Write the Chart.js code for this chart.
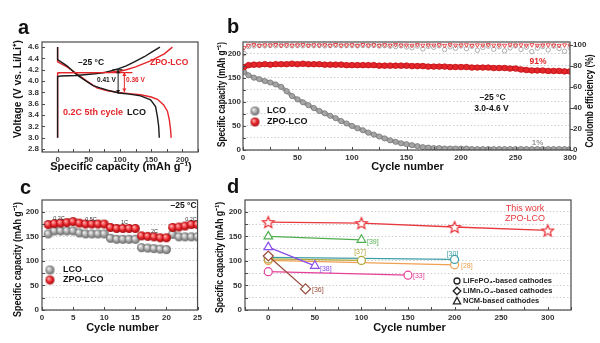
<!DOCTYPE html>
<html>
<head>
<meta charset="utf-8">
<title>LCO vs ZPO-LCO at –25 °C</title>
<script src="https://cdn.jsdelivr.net/npm/chart.js@4.4.1/dist/chart.umd.min.js"></script>
<style>
html,body{margin:0;padding:0;background:#fff;}
#fig{position:relative;width:600px;height:343px;overflow:hidden;background:#fff;}
#fig canvas{position:absolute;}
.pl{position:absolute;font:bold 20px "Liberation Sans",Arial,sans-serif;line-height:20px;color:#111;}
</style>
</head>
<body>
<div id="fig">
  <canvas id="chartA" width="205" height="178" style="left:0;top:0;width:205px;height:178px"></canvas>
  <canvas id="chartB" width="395" height="178" style="left:205px;top:0;width:395px;height:178px"></canvas>
  <canvas id="chartC" width="205" height="165" style="left:0;top:178px;width:205px;height:165px"></canvas>
  <canvas id="chartD" width="395" height="165" style="left:205px;top:178px;width:395px;height:165px"></canvas>
  <div class="pl" style="left:18px;top:17px">a</div>
  <div class="pl" style="left:227px;top:16px">b</div>
  <div class="pl" style="left:20px;top:177px">c</div>
  <div class="pl" style="left:227px;top:176px">d</div>
</div>
<script>
// ---------------- Panel a: 0.2C 5th-cycle voltage profiles ----------------
const aLcoChargeCap    = [0, 0, 5, 30, 60, 75, 85, 98, 110, 123, 139, 152, 164];
const aLcoChargeV      = [3.0, 4.08, 4.09, 4.10, 4.13, 4.15, 4.18, 4.22, 4.27, 4.34, 4.43, 4.52, 4.60];
const aZpoChargeCap    = [0, 0, 5, 40, 70, 85, 98, 110, 125, 150, 171, 184];
const aZpoChargeV      = [3.0, 4.14, 4.15, 4.15, 4.15, 4.16, 4.17, 4.20, 4.25, 4.36, 4.48, 4.60];
const aLcoDischargeCap = [0, 0, 15, 31, 47, 57, 68, 80, 98, 115, 133, 149, 157, 160, 162, 163];
const aLcoDischargeV   = [4.60, 4.38, 4.27, 4.11, 3.99, 3.92, 3.88, 3.84, 3.79, 3.77, 3.74, 3.67, 3.55, 3.37, 3.20, 3.00];
const aZpoDischargeCap = [0, 0, 15, 31, 47, 63, 80, 98, 115, 133, 150, 160, 170, 176, 179, 181, 182];
const aZpoDischargeV   = [4.60, 4.34, 4.25, 4.13, 4.00, 3.88, 3.83, 3.80, 3.78, 3.76, 3.72, 3.68, 3.58, 3.47, 3.32, 3.15, 3.00];
// polarization markers (capacity, low V, high V)
const aGapCap  = [97, 107];
const aGapLowV = [3.78, 3.81];
const aGapHighV= [4.20, 4.15];

// ---------------- Panel b: long cycling at -25 °C ----------------
const bCycles = [1, 5, 10, 15, 20, 25, 30, 35, 40, 45,
                 50, 55, 60, 65, 70, 75, 80, 85, 90, 95,
                 100, 105, 110, 115, 120, 125, 130, 135, 140, 145,
                 150, 155, 160, 165, 170, 175, 180, 185, 190, 195,
                 200, 205, 210, 215, 220, 225, 230, 235, 240, 245,
                 250, 255, 260, 265, 270, 275, 280, 285, 290, 295, 300];
const bLcoCap = [162, 155, 150, 147, 143, 140, 136, 131, 122, 112,
                 105, 99, 93, 87, 81, 76, 71, 66, 60, 55,
                 50, 45, 41, 36, 32, 28, 24, 20, 17, 14,
                 12, 10, 8, 6, 5, 4, 4, 3, 3, 3,
                 3, 3, 2, 2, 2, 2, 2, 2, 2, 2,
                 2, 2, 2, 2, 2, 2, 2, 2, 2, 2, 2];
const bZpoCap = [172, 176, 177, 177, 178, 177, 178, 178, 178, 179,
                 178, 179, 178, 178, 178, 177, 177, 177, 177, 176,
                 176, 176, 176, 176, 176, 175, 175, 175, 175, 175,
                 175, 174, 174, 174, 173, 173, 173, 173, 172, 172,
                 172, 172, 171, 171, 171, 171, 170, 170, 170, 169,
                 169, 167, 166, 165, 165, 165, 164, 164, 164, 163, 163];
const bLcoCE  = [92.0, 98.6, 99.2, 99.5, 99.3, 99.6, 99.4, 99.7, 99.5, 99.3,
                 99.6, 99.4, 99.7, 99.5, 99.6, 99.3, 99.5, 99.7, 99.4, 99.6,
                 99.5, 99.3, 99.6, 99.4, 99.7, 99.2, 99.5, 99.0, 98.6, 99.3,
                 98.2, 97.5, 99.1, 96.4, 98.8, 97.9, 99.4, 95.8, 98.3, 97.0,
                 99.2, 96.6, 98.9, 95.2, 97.8, 99.0, 96.1, 98.5, 94.6, 97.4,
                 99.3, 95.9, 98.1, 93.8, 97.2, 98.7, 95.5, 99.1, 96.8, 94.2, 97.6];
const bZpoCE  = [97.5, 99.8, 100.3, 99.6, 100.1, 99.9, 100.4, 99.7, 100.2, 99.8,
                 100.0, 100.3, 99.6, 100.1, 99.9, 100.2, 99.7, 100.4, 99.8, 100.0,
                 100.2, 99.6, 100.3, 99.9, 100.1, 99.7, 100.2, 99.8, 100.4, 99.9,
                 100.0, 99.7, 100.3, 99.8, 100.1, 99.9, 100.2, 99.6, 100.3, 99.8,
                 100.0, 100.2, 99.7, 100.1, 99.9, 100.3, 99.8, 100.0, 99.7, 100.2,
                 99.9, 100.1, 99.8, 100.3, 99.7, 100.0, 100.2, 99.9, 99.6, 100.1, 99.8];

// ---------------- Panel c: rate capability ----------------
const cCycles = [1, 2, 3, 4, 5, 6, 7, 8, 9, 10, 11, 12, 13, 14, 15, 16, 17, 18, 19, 20, 21, 22, 23, 24, 25];
const cLco = [155, 161, 161, 161, 161, 157, 155, 155, 155, 155, 146, 144, 144, 144, 144, 127, 126, 125, 124, 123, 154, 149, 149, 149, 149];
const cZpo = [174, 176, 177, 178, 180, 177, 175, 175, 175, 175, 168, 166, 166, 166, 166, 151, 150, 149, 147, 147, 168, 169, 171, 174, 174];
const cRates = ['0.2C', '0.5C', '1C', '2C', '0.2C'];

// ---------------- Panel d: comparison with literature ----------------
const dThisX = [0, 100, 200, 300]; const dThisY = [179, 177, 169, 162];
const d39X = [0, 100];  const d39Y = [150, 143];
const d38X = [0, 50];   const d38Y = [128, 90];
const d36X = [0, 40];   const d36Y = [110, 43];
const d37X = [0, 100];  const d37Y = [104, 101];
const d30X = [0, 200];  const d30Y = [107, 103];
const d28X = [0, 200];  const d28Y = [101, 92];
const d33X = [0, 150];  const d33Y = [78, 71];

// ---------------- styling ----------------
const FONT = '"Liberation Sans", Arial, Helvetica, sans-serif';
const RED = '#e4252a', BLACK = '#1b1b1b', TICK = '#333333', FRAME = '#4a4a4a';
const tickFont = {family: FONT, size: 8, weight: 'bold'};
const C_GREEN = '#4fae4f', C_PURPLE = '#8a4de8', C_BROWN = '#9a4a3c', C_OLIVE = '#b0a53a',
      C_TEAL = '#3d9fa6', C_ORANGE = '#f0a050', C_MAGENTA = '#e6409a';

function pairs(xs, ys) { return xs.map((x, i) => ({x: x, y: ys[i]})); }
function f(w, s) { return (w ? 'bold ' : '') + s + 'px ' + FONT; }

function sphere(r, base, light, dark) {
  const c = document.createElement('canvas');
  const s = Math.ceil(2 * r + 2); c.width = s; c.height = s;
  const g = c.getContext('2d'); const cx = s / 2, cy = s / 2;
  const grd = g.createRadialGradient(cx - r * 0.35, cy - r * 0.35, r * 0.1, cx, cy, r);
  grd.addColorStop(0, light); grd.addColorStop(0.55, base); grd.addColorStop(1, dark);
  g.fillStyle = grd; g.beginPath(); g.arc(cx, cy, r, 0, Math.PI * 2); g.fill();
  return c;
}
function starImg(R, color) {
  const c = document.createElement('canvas');
  const s = Math.ceil(2 * R + 4); c.width = s; c.height = s;
  const g = c.getContext('2d'); const cx = s / 2, cy = s / 2 + 0.6, r = R * 0.45;
  g.beginPath();
  for (let i = 0; i < 10; i++) {
    const a = -Math.PI / 2 + i * Math.PI / 5, rr = (i % 2) ? r : R;
    g.lineTo(cx + rr * Math.cos(a), cy + rr * Math.sin(a));
  }
  g.closePath(); g.fillStyle = '#fff'; g.fill(); g.strokeStyle = color; g.lineWidth = 1.3; g.stroke();
  return c;
}
const graySphere = sphere(4.5, '#a2a2a2', '#f2f2f2', '#656565');
const redSphere  = sphere(4.5, '#e8242a', '#ffb0b0', '#a00d10');
const star = starImg(6, '#e8383d');

// ---------------- decoration plugin ----------------
Chart.register({
  id: 'deco',
  afterDraw(chart, args, o) {
    const ctx = chart.ctx, ca = chart.chartArea, sc = chart.scales;
    const X = sc.x, Y = sc.y;
    ctx.save();
    (o.hlines || []).forEach(h => {
      ctx.strokeStyle = h.color; ctx.lineWidth = 1.2;
      const py = Y.getPixelForValue(h.y);
      ctx.beginPath(); ctx.moveTo(X.getPixelForValue(h.x1), py); ctx.lineTo(X.getPixelForValue(h.x2), py); ctx.stroke();
    });
    (o.arrows || []).forEach(a => {
      const px = X.getPixelForValue(a.x), p1 = Y.getPixelForValue(a.y1), p2 = Y.getPixelForValue(a.y2);
      ctx.strokeStyle = a.color; ctx.fillStyle = a.color; ctx.lineWidth = 1;
      ctx.beginPath(); ctx.moveTo(px, p1); ctx.lineTo(px, p2); ctx.stroke();
      [[p1, 1], [p2, -1]].forEach(([py, d]) => {
        ctx.beginPath(); ctx.moveTo(px, py); ctx.lineTo(px - 2, py - 3.5 * d); ctx.lineTo(px + 2, py - 3.5 * d); ctx.closePath(); ctx.fill();
      });
    });
    (o.ticks || []).forEach(t => {
      const s = sc[t.id]; if (!s) return;
      ctx.strokeStyle = FRAME; ctx.lineWidth = 1;
      s.ticks.forEach(tk => {
        const p = Math.round(s.getPixelForValue(tk.value)) + 0.5;
        ctx.beginPath();
        if (s.isHorizontal()) { ctx.moveTo(p, ca.bottom); ctx.lineTo(p, ca.bottom - t.len); }
        else if (s.position === 'right') { ctx.moveTo(ca.right, p); ctx.lineTo(ca.right + (t.out ? t.len : -t.len), p); }
        else { ctx.moveTo(ca.left, p); ctx.lineTo(ca.left + t.len, p); }
        ctx.stroke();
      });
    });
    if (o.frame) {
      ctx.strokeStyle = FRAME; ctx.lineWidth = 1.2;
      ctx.strokeRect(ca.left, ca.top, ca.right - ca.left, ca.bottom - ca.top);
    }
    (o.texts || []).forEach(t => {
      ctx.font = t.font; ctx.fillStyle = t.color || '#111';
      ctx.textAlign = t.align || 'left'; ctx.textBaseline = 'middle';
      ctx.fillText(t.t, t.x, t.y);
    });
    (o.yTitles || []).forEach(t => {
      ctx.save(); ctx.translate(t.x, t.y); ctx.rotate(-Math.PI / 2);
      ctx.font = t.font; ctx.fillStyle = t.color || '#111';
      ctx.textAlign = 'center'; ctx.textBaseline = 'middle';
      ctx.fillText(t.t, 0, 0, t.w); ctx.restore();
    });
    (o.images || []).forEach(m => ctx.drawImage(m.img, m.x - m.img.width / 2, m.y - m.img.height / 2));
    (o.symbols || []).forEach(s => {
      ctx.strokeStyle = '#222'; ctx.lineWidth = 1.3; ctx.beginPath();
      if (s.shape === 'circle') ctx.arc(s.x, s.y, 3, 0, Math.PI * 2);
      else if (s.shape === 'diamond') { ctx.moveTo(s.x, s.y - 3.8); ctx.lineTo(s.x + 3.8, s.y); ctx.lineTo(s.x, s.y + 3.8); ctx.lineTo(s.x - 3.8, s.y); ctx.closePath(); }
      else { ctx.moveTo(s.x, s.y - 3.6); ctx.lineTo(s.x + 3.6, s.y + 2.8); ctx.lineTo(s.x - 3.6, s.y + 2.8); ctx.closePath(); }
      ctx.stroke();
    });
    ctx.restore();
  }
});

function baseOptions(pad, deco, scales) {
  return {
    responsive: false, animation: false, devicePixelRatio: 1, events: [],
    layout: {padding: pad},
    plugins: {legend: {display: false}, tooltip: {enabled: false}, deco: deco},
    scales: scales
  };
}
function axis(extra) {
  const s = {
    type: 'linear',
    grid: {display: false, drawTicks: false},
    border: {display: false},
    ticks: {font: tickFont, color: TICK, padding: 3, autoSkip: false, maxRotation: 0, includeBounds: false}
  };
  if (extra.grid) Object.assign(s.grid, extra.grid);
  if (extra.border) Object.assign(s.border, extra.border);
  if (extra.ticks) Object.assign(s.ticks, extra.ticks);
  ['min', 'max', 'position', 'afterFit'].forEach(k => { if (extra[k] !== undefined) s[k] = extra[k]; });
  return s;
}
const dotGrid = {display: true, color: '#c2c2c2', lineWidth: 0.8, drawTicks: false};
const dotBorder = {display: false, dash: [1.5, 2]};
const every50 = v => (v % 50 === 0 ? v : '');

// ---------------- Chart a ----------------
function curve(label, xs, ys, color) {
  return {label: label, data: pairs(xs, ys), showLine: true, borderColor: color, borderWidth: 1.4, pointRadius: 0, tension: 0};
}
new Chart(document.getElementById('chartA'), {
  type: 'scatter',
  data: {datasets: [
    curve('LCO charge', aLcoChargeCap, aLcoChargeV, BLACK),
    curve('LCO discharge', aLcoDischargeCap, aLcoDischargeV, BLACK),
    curve('ZPO-LCO charge', aZpoChargeCap, aZpoChargeV, RED),
    curve('ZPO-LCO discharge', aZpoDischargeCap, aZpoDischargeV, RED)
  ]},
  options: baseOptions({left: 0, right: 7, top: 42, bottom: 0}, {
    frame: true,
    ticks: [{id: 'x', len: 3}, {id: 'y', len: 3}],
    hlines: [{x1: 0, x2: 120, y: aZpoChargeV[2], color: RED}, {x1: 88, x2: 104, y: aGapHighV[0], color: BLACK}],
    arrows: [
      {x: aGapCap[0], y1: aGapLowV[0], y2: aGapHighV[0], color: BLACK},
      {x: aGapCap[1], y1: aGapLowV[1], y2: aGapHighV[1], color: RED}
    ],
    texts: [
      {t: 'Specific capacity (mAh g\u207B\u00B9)', x: 121, y: 167, font: f(1, 11), align: 'center'},
      {t: '\u201325 \u00B0C', x: 78, y: 63, font: f(1, 8.5)},
      {t: 'ZPO-LCO', x: 150, y: 63, font: f(1, 8.5), color: RED},
      {t: '0.41 V', x: 97, y: 80, font: f(1, 6.5)},
      {t: '0.36 V', x: 126, y: 80, font: f(1, 6.5), color: RED},
      {t: '0.2C 5th cycle', x: 63, y: 113, font: f(1, 9), color: RED},
      {t: 'LCO', x: 127, y: 113, font: f(1, 9)}
    ],
    yTitles: [{t: 'Voltage (V vs. Li/Li\u207A)', x: 18, y: 89, w: 98, font: f(1, 11)}]
  }, {
    x: axis({min: -25, max: 225, ticks: {stepSize: 25, callback: v => (v >= 0 && v <= 200 && v % 50 === 0 ? v : '')}, afterFit: s => { s.height = 26; }}),
    y: axis({min: 2.75, max: 4.69, ticks: {stepSize: 0.2, callback: v => v.toFixed(1)}, afterFit: s => { s.width = 42; }})
  })
});

// ---------------- Chart b ----------------
new Chart(document.getElementById('chartB'), {
  type: 'scatter',
  data: {datasets: [
    {label: 'ZPO-LCO', data: pairs(bCycles, bZpoCap), yAxisID: 'y', showLine: true, borderColor: RED, borderWidth: 5,
     pointRadius: 2.8, pointBackgroundColor: RED, pointBorderColor: '#c0161a', pointBorderWidth: 0.8},
    {label: 'LCO', data: pairs(bCycles, bLcoCap), yAxisID: 'y', showLine: true, borderColor: '#9c9c9c', borderWidth: 4,
     pointRadius: 2.6, pointBackgroundColor: '#a5a5a5', pointBorderColor: '#7a7a7a', pointBorderWidth: 0.8},
    {label: 'ZPO-LCO CE', data: pairs(bCycles, bZpoCE), yAxisID: 'y1', showLine: false, pointStyle: 'triangle', pointRotation: 180,
     pointRadius: 2.4, pointBackgroundColor: 'rgba(0,0,0,0)', pointBorderColor: RED, pointBorderWidth: 0.8},
    {label: 'LCO CE', data: pairs(bCycles, bLcoCE), yAxisID: 'y1', showLine: false, pointStyle: 'circle',
     pointRadius: 2.2, pointBackgroundColor: 'rgba(0,0,0,0)', pointBorderColor: '#9a9a9a', pointBorderWidth: 0.8}
  ]},
  options: baseOptions({left: 0, right: 0, top: 42, bottom: 0}, {
    frame: true,
    ticks: [{id: 'x', len: 3}, {id: 'y', len: 3}, {id: 'y1', len: 3, out: true}],
    texts: [
      {t: 'Cycle number', x: 202.5, y: 167, font: f(1, 11), align: 'center'},
      {t: '\u201325 \u00B0C', x: 287.5, y: 98, font: f(1, 8.5), align: 'center'},
      {t: '3.0-4.6 V', x: 286.5, y: 109, font: f(1, 8.5), align: 'center'},
      {t: '91%', x: 333, y: 62, font: f(1, 8.5), color: RED, align: 'center'},
      {t: '1%', x: 332.5, y: 143, font: f(1, 8), color: '#9a9a9a', align: 'center'},
      {t: 'LCO', x: 62, y: 111, font: f(1, 9)},
      {t: 'ZPO-LCO', x: 62, y: 122, font: f(1, 9)}
    ],
    images: [{img: graySphere, x: 50, y: 111}, {img: redSphere, x: 50, y: 122}],
    yTitles: [
      {t: 'Specific capacity (mAh g\u207B\u00B9)', x: 17, y: 94.5, w: 105, font: f(1, 11)},
      {t: 'Coulomb efficiency (%)', x: 385, y: 101, w: 93, font: f(1, 11)}
    ]
  }, {
    x: axis({min: 0, max: 300, ticks: {stepSize: 25, callback: every50}, afterFit: s => { s.height = 28; }}),
    y: axis({min: 0, max: 224, position: 'left', grid: dotGrid, border: dotBorder,
             ticks: {stepSize: 25, callback: every50, padding: 2}, afterFit: s => { s.width = 38; }}),
    y1: axis({min: 0, max: 103, position: 'right', ticks: {stepSize: 20}, afterFit: s => { s.width = 30; }})
  })
});

// ---------------- Chart c ----------------
new Chart(document.getElementById('chartC'), {
  type: 'scatter',
  data: {datasets: [
    {label: 'ZPO-LCO', data: pairs(cCycles, cZpo), pointStyle: redSphere, pointRadius: 4.5},
    {label: 'LCO', data: pairs(cCycles, cLco), pointStyle: graySphere, pointRadius: 4.5}
  ]},
  options: baseOptions({left: 0, right: 6, top: 22, bottom: 0}, {
    frame: true,
    ticks: [{id: 'x', len: 3}, {id: 'y', len: 3}],
    texts: [
      {t: 'Cycle number', x: 122.5, y: 150, font: f(1, 11), align: 'center'},
      {t: '\u201325 \u00B0C', x: 183.5, y: 28, font: f(1, 8.5), align: 'center'},
      {t: cRates[0], x: 59, y: 40, font: f(0, 5.5), color: '#333', align: 'center'},
      {t: cRates[1], x: 91, y: 41, font: f(0, 5.5), color: '#333', align: 'center'},
      {t: cRates[2], x: 124.5, y: 44, font: f(0, 5.5), color: '#333', align: 'center'},
      {t: cRates[3], x: 154.5, y: 53, font: f(0, 5.5), color: '#333', align: 'center'},
      {t: cRates[4], x: 191, y: 41, font: f(0, 5.5), color: '#333', align: 'center'},
      {t: 'LCO', x: 63, y: 92, font: f(1, 9)},
      {t: 'ZPO-LCO', x: 63, y: 102, font: f(1, 9)}
    ],
    images: [{img: graySphere, x: 50, y: 92}, {img: redSphere, x: 50, y: 102}],
    yTitles: [{t: 'Specific capacity (mAh g\u207B\u00B9)', x: 18, y: 81.5, w: 115, font: f(1, 11)}]
  }, {
    x: axis({min: 0, max: 25, ticks: {stepSize: 5}, afterFit: s => { s.height = 33; }}),
    y: axis({min: 0, max: 224, grid: dotGrid, border: dotBorder,
             ticks: {stepSize: 25, callback: every50}, afterFit: s => { s.width = 42; }})
  })
});

// ---------------- Chart d ----------------
function dSeries(label, xs, ys, color, style, r) {
  return {label: label, data: pairs(xs, ys), showLine: true, borderColor: color, borderWidth: 1.3,
          pointStyle: style, pointRadius: r, pointBorderColor: color, pointBackgroundColor: '#ffffff', pointBorderWidth: 1.2};
}
new Chart(document.getElementById('chartD'), {
  type: 'scatter',
  data: {datasets: [
    dSeries('This work ZPO-LCO', dThisX, dThisY, '#e8383d', star, 6),
    dSeries('[39]', d39X, d39Y, C_GREEN, 'triangle', 5),
    dSeries('[38]', d38X, d38Y, C_PURPLE, 'triangle', 5),
    dSeries('[36]', d36X, d36Y, C_BROWN, 'rectRot', 5),
    dSeries('[37]', d37X, d37Y, C_OLIVE, 'circle', 4),
    dSeries('[30]', d30X, d30Y, C_TEAL, 'circle', 4),
    dSeries('[28]', d28X, d28Y, C_ORANGE, 'circle', 4),
    dSeries('[33]', d33X, d33Y, C_MAGENTA, 'circle', 4)
  ]},
  options: baseOptions({left: 0, right: 29, top: 22, bottom: 0}, {
    frame: true,
    ticks: [{id: 'x', len: 3}, {id: 'y', len: 3}],
    texts: [
      {t: 'Cycle number', x: 204.5, y: 150, font: f(1, 11), align: 'center'},
      {t: 'This work', x: 320, y: 31, font: f(0, 9), color: '#e8383d', align: 'center'},
      {t: 'ZPO-LCO', x: 320, y: 41, font: f(0, 9), color: '#e8383d', align: 'center'},
      {t: '[39]', x: 162, y: 64, font: f(0, 7), color: C_GREEN},
      {t: '[38]', x: 115, y: 91, font: f(0, 7), color: C_PURPLE},
      {t: '[36]', x: 107, y: 112, font: f(0, 7), color: C_BROWN},
      {t: '[37]', x: 155, y: 74, font: f(0, 7), color: C_OLIVE, align: 'center'},
      {t: '[30]', x: 247.5, y: 76, font: f(0, 7), color: C_TEAL, align: 'center'},
      {t: '[28]', x: 256, y: 88, font: f(0, 7), color: C_ORANGE},
      {t: '[33]', x: 208, y: 98, font: f(0, 7), color: C_MAGENTA},
      {t: 'LiFePO\u2084-based cathodes', x: 258, y: 103, font: f(1, 7.5), color: '#222'},
      {t: 'LiMn\u2082O\u2084-based cathodes', x: 258, y: 113, font: f(1, 7.5), color: '#222'},
      {t: 'NCM-based cathodes', x: 258, y: 123, font: f(1, 7.5), color: '#222'}
    ],
    symbols: [{shape: 'circle', x: 252, y: 103}, {shape: 'diamond', x: 252, y: 113}, {shape: 'triangle', x: 252, y: 123}],
    yTitles: [{t: 'Specific capacity (mAh g\u207B\u00B9)', x: 15, y: 79.5, w: 111, font: f(1, 11)}]
  }, {
    x: axis({min: -25, max: 325, ticks: {stepSize: 25, callback: v => (v >= 0 && v % 50 === 0 ? v : '')}, afterFit: s => { s.height = 33; }}),
    y: axis({min: 0, max: 224, grid: dotGrid, border: dotBorder,
             ticks: {stepSize: 25, callback: every50}, afterFit: s => { s.width = 40; }})
  })
});
</script>
</body>
</html>
